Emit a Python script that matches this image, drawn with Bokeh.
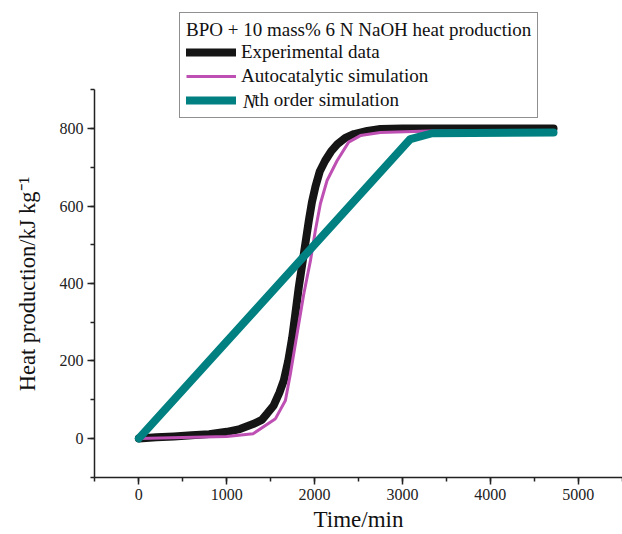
from bokeh.plotting import figure
from bokeh.models import Range1d, SingleIntervalTicker, Legend, LegendItem, Label
from bokeh.embed import file_html
from bokeh.resources import INLINE

# Experimental data (time in min, heat production in kJ/kg)
exp_t = [0, 200, 400, 600, 800, 1000, 1150, 1300, 1400, 1460, 1535, 1600, 1650, 1700,
         1745, 1780, 1820, 1850, 1880, 1935, 1970, 2010, 2060, 2120, 2190, 2260, 2350,
         2450, 2600, 2750, 3000, 4000, 4720]
exp_v = [0, 3, 5, 8, 11, 17, 24, 37, 48, 64, 85, 118, 150, 200,
         260, 320, 390, 435, 480, 563, 610, 650, 690, 717, 742, 760, 776,
         786, 794, 799, 800, 800, 800]

# Autocatalytic simulation
auto_t = [0, 1000, 1300, 1555, 1668, 1725, 1801, 1877, 1953, 2009, 2066, 2142, 2256,
          2388, 2521, 2748, 3300, 4720]
auto_v = [0, 5, 12, 51, 98, 167, 270, 373, 459, 537, 606, 666, 717,
          765, 782, 790, 794, 795]

# Nth order simulation
nth_t = [0, 3090, 3340, 4720]
nth_v = [0, 773, 788, 790]

legend_title = "BPO + 10 mass% 6 N NaOH heat production"
labels = ["Experimental data", "Autocatalytic simulation", "\u2002\u2009th order simulation"]
italic_prefix = "N"
x_label = "Time/min"
y_label = "Heat production/kJ kg\u207b\u00b9" + "\u2003" * 4

FONT = "Liberation Serif"

p = figure(width=622, height=534, output_backend="svg", toolbar_location=None,
           x_range=Range1d(-505, 5505), y_range=Range1d(-101, 1130.8),
           min_border_left=94, min_border_right=0, min_border_top=0,
           min_border_bottom=57)
p.grid.visible = False
p.outline_line_color = None
p.background_fill_color = "white"
p.border_fill_color = "white"

r1 = p.line(exp_t, exp_v, line_color="#151515", line_width=8,
            line_cap="round", line_join="round")
r2 = p.line(auto_t, auto_v, line_color="#BE50B4", line_width=3,
            line_join="round")
r3 = p.line(nth_t, nth_v, line_color="#008080", line_width=8,
            line_cap="round", line_join="round")

p.xaxis.ticker = SingleIntervalTicker(interval=1000, num_minor_ticks=2)
p.yaxis.ticker = SingleIntervalTicker(interval=200, num_minor_ticks=2)
p.yaxis.bounds = (-100, 900)
p.xaxis.axis_label = x_label
p.yaxis.axis_label = y_label

for ax in (p.xaxis[0], p.yaxis[0]):
    ax.axis_line_width = 1.5
    ax.axis_line_color = "#222222"
    ax.major_tick_line_width = 1.5
    ax.minor_tick_line_width = 1.5
    ax.major_tick_line_color = "#222222"
    ax.minor_tick_line_color = "#222222"
    ax.major_tick_out = 7
    ax.major_tick_in = 0
    ax.minor_tick_out = 4
    ax.minor_tick_in = 0
    ax.major_label_text_font = FONT
    ax.major_label_text_font_size = "16px"
    ax.major_label_text_color = "#222222"
    ax.axis_label_text_font = FONT
    ax.axis_label_text_font_style = "normal"
    ax.axis_label_text_color = "#111111"
    ax.major_label_standoff = 4

p.xaxis.axis_label_text_font_size = "23px"
p.yaxis.axis_label_text_font_size = "22.5px"
p.xaxis.axis_label_standoff = 4
p.yaxis.axis_label_standoff = 17

legend = Legend(items=[LegendItem(label=labels[0], renderers=[r1]),
                       LegendItem(label=labels[1], renderers=[r2]),
                       LegendItem(label=labels[2], renderers=[r3])],
                location=(85, 359), title=legend_title)
legend.title_text_font = FONT
legend.title_text_font_size = "19px"
legend.title_text_font_style = "normal"
legend.title_text_color = "#111111"
legend.title_standoff = 0
legend.label_text_font = FONT
legend.label_text_font_size = "19px"
legend.label_text_color = "#111111"
legend.label_standoff = 5
legend.glyph_width = 50
legend.glyph_height = 22
legend.label_height = 22
legend.spacing = 2
legend.padding = 6
legend.margin = 0
legend.border_line_color = "#222222"
legend.border_line_width = 1
legend.background_fill_color = "white"
legend.background_fill_alpha = 0.0
p.add_layout(legend)

# italic "N" of the third legend entry, placed in data space over the legend row
n_label = Label(x=1185, y=871, text=italic_prefix,
                text_font=FONT, text_font_size="19px", text_font_style="italic",
                text_color="#111111", text_baseline="middle", text_align="left")
p.add_layout(n_label)

open("out.html", "w").write(file_html(p, INLINE))
